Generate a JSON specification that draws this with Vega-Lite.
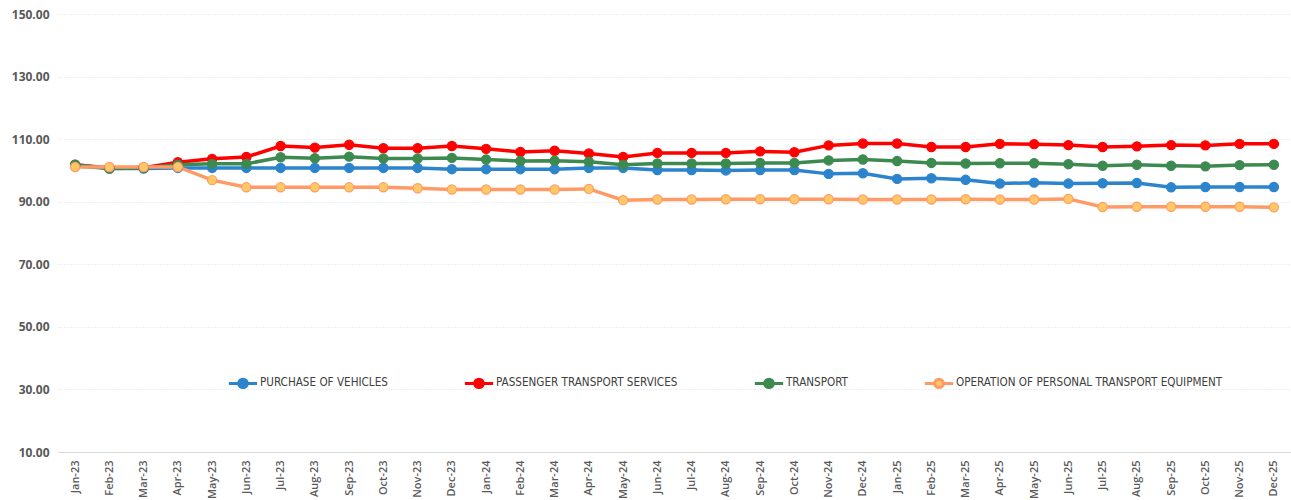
{
  "$schema": "https://vega.github.io/schema/vega-lite/v6.json",
  "width": 1233,
  "height": 438,
  "autosize": {"type": "none"},
  "padding": {"left": 58, "top": 14, "right": 0, "bottom": 48},
  "background": "white",
  "config": {"view": {"stroke": null}},
  "datasets": {
    "cpi": [
      {"m":"Jan-23","s":"PURCHASE OF VEHICLES","v":101.5},{"m":"Feb-23","s":"PURCHASE OF VEHICLES","v":100.6},{"m":"Mar-23","s":"PURCHASE OF VEHICLES","v":100.6},{"m":"Apr-23","s":"PURCHASE OF VEHICLES","v":100.8},{"m":"May-23","s":"PURCHASE OF VEHICLES","v":100.8},{"m":"Jun-23","s":"PURCHASE OF VEHICLES","v":100.8},{"m":"Jul-23","s":"PURCHASE OF VEHICLES","v":100.8},{"m":"Aug-23","s":"PURCHASE OF VEHICLES","v":100.8},{"m":"Sep-23","s":"PURCHASE OF VEHICLES","v":100.8},{"m":"Oct-23","s":"PURCHASE OF VEHICLES","v":100.8},{"m":"Nov-23","s":"PURCHASE OF VEHICLES","v":100.8},{"m":"Dec-23","s":"PURCHASE OF VEHICLES","v":100.4},
      {"m":"Jan-24","s":"PURCHASE OF VEHICLES","v":100.4},{"m":"Feb-24","s":"PURCHASE OF VEHICLES","v":100.4},{"m":"Mar-24","s":"PURCHASE OF VEHICLES","v":100.4},{"m":"Apr-24","s":"PURCHASE OF VEHICLES","v":100.8},{"m":"May-24","s":"PURCHASE OF VEHICLES","v":100.8},{"m":"Jun-24","s":"PURCHASE OF VEHICLES","v":100.1},{"m":"Jul-24","s":"PURCHASE OF VEHICLES","v":100.1},{"m":"Aug-24","s":"PURCHASE OF VEHICLES","v":100.0},{"m":"Sep-24","s":"PURCHASE OF VEHICLES","v":100.1},{"m":"Oct-24","s":"PURCHASE OF VEHICLES","v":100.1},{"m":"Nov-24","s":"PURCHASE OF VEHICLES","v":98.9},{"m":"Dec-24","s":"PURCHASE OF VEHICLES","v":99.1},
      {"m":"Jan-25","s":"PURCHASE OF VEHICLES","v":97.3},{"m":"Feb-25","s":"PURCHASE OF VEHICLES","v":97.5},{"m":"Mar-25","s":"PURCHASE OF VEHICLES","v":97.0},{"m":"Apr-25","s":"PURCHASE OF VEHICLES","v":95.8},{"m":"May-25","s":"PURCHASE OF VEHICLES","v":96.1},{"m":"Jun-25","s":"PURCHASE OF VEHICLES","v":95.8},{"m":"Jul-25","s":"PURCHASE OF VEHICLES","v":95.9},{"m":"Aug-25","s":"PURCHASE OF VEHICLES","v":96.0},{"m":"Sep-25","s":"PURCHASE OF VEHICLES","v":94.6},{"m":"Oct-25","s":"PURCHASE OF VEHICLES","v":94.7},{"m":"Nov-25","s":"PURCHASE OF VEHICLES","v":94.7},{"m":"Dec-25","s":"PURCHASE OF VEHICLES","v":94.7},

      {"m":"Jan-23","s":"PASSENGER TRANSPORT SERVICES","v":101.8},{"m":"Feb-23","s":"PASSENGER TRANSPORT SERVICES","v":100.8},{"m":"Mar-23","s":"PASSENGER TRANSPORT SERVICES","v":100.9},{"m":"Apr-23","s":"PASSENGER TRANSPORT SERVICES","v":102.6},{"m":"May-23","s":"PASSENGER TRANSPORT SERVICES","v":103.7},{"m":"Jun-23","s":"PASSENGER TRANSPORT SERVICES","v":104.3},{"m":"Jul-23","s":"PASSENGER TRANSPORT SERVICES","v":107.8},{"m":"Aug-23","s":"PASSENGER TRANSPORT SERVICES","v":107.3},{"m":"Sep-23","s":"PASSENGER TRANSPORT SERVICES","v":108.2},{"m":"Oct-23","s":"PASSENGER TRANSPORT SERVICES","v":107.1},{"m":"Nov-23","s":"PASSENGER TRANSPORT SERVICES","v":107.1},{"m":"Dec-23","s":"PASSENGER TRANSPORT SERVICES","v":107.8},
      {"m":"Jan-24","s":"PASSENGER TRANSPORT SERVICES","v":106.9},{"m":"Feb-24","s":"PASSENGER TRANSPORT SERVICES","v":105.9},{"m":"Mar-24","s":"PASSENGER TRANSPORT SERVICES","v":106.3},{"m":"Apr-24","s":"PASSENGER TRANSPORT SERVICES","v":105.4},{"m":"May-24","s":"PASSENGER TRANSPORT SERVICES","v":104.3},{"m":"Jun-24","s":"PASSENGER TRANSPORT SERVICES","v":105.6},{"m":"Jul-24","s":"PASSENGER TRANSPORT SERVICES","v":105.6},{"m":"Aug-24","s":"PASSENGER TRANSPORT SERVICES","v":105.6},{"m":"Sep-24","s":"PASSENGER TRANSPORT SERVICES","v":106.1},{"m":"Oct-24","s":"PASSENGER TRANSPORT SERVICES","v":105.8},{"m":"Nov-24","s":"PASSENGER TRANSPORT SERVICES","v":108.0},{"m":"Dec-24","s":"PASSENGER TRANSPORT SERVICES","v":108.6},
      {"m":"Jan-25","s":"PASSENGER TRANSPORT SERVICES","v":108.6},{"m":"Feb-25","s":"PASSENGER TRANSPORT SERVICES","v":107.5},{"m":"Mar-25","s":"PASSENGER TRANSPORT SERVICES","v":107.5},{"m":"Apr-25","s":"PASSENGER TRANSPORT SERVICES","v":108.5},{"m":"May-25","s":"PASSENGER TRANSPORT SERVICES","v":108.4},{"m":"Jun-25","s":"PASSENGER TRANSPORT SERVICES","v":108.1},{"m":"Jul-25","s":"PASSENGER TRANSPORT SERVICES","v":107.5},{"m":"Aug-25","s":"PASSENGER TRANSPORT SERVICES","v":107.7},{"m":"Sep-25","s":"PASSENGER TRANSPORT SERVICES","v":108.1},{"m":"Oct-25","s":"PASSENGER TRANSPORT SERVICES","v":108.0},{"m":"Nov-25","s":"PASSENGER TRANSPORT SERVICES","v":108.5},{"m":"Dec-25","s":"PASSENGER TRANSPORT SERVICES","v":108.5},

      {"m":"Jan-23","s":"TRANSPORT","v":101.8},{"m":"Feb-23","s":"TRANSPORT","v":100.6},{"m":"Mar-23","s":"TRANSPORT","v":100.8},{"m":"Apr-23","s":"TRANSPORT","v":101.8},{"m":"May-23","s":"TRANSPORT","v":102.1},{"m":"Jun-23","s":"TRANSPORT","v":102.1},{"m":"Jul-23","s":"TRANSPORT","v":104.2},{"m":"Aug-23","s":"TRANSPORT","v":103.9},{"m":"Sep-23","s":"TRANSPORT","v":104.4},{"m":"Oct-23","s":"TRANSPORT","v":103.8},{"m":"Nov-23","s":"TRANSPORT","v":103.8},{"m":"Dec-23","s":"TRANSPORT","v":104.0},
      {"m":"Jan-24","s":"TRANSPORT","v":103.5},{"m":"Feb-24","s":"TRANSPORT","v":103.0},{"m":"Mar-24","s":"TRANSPORT","v":103.1},{"m":"Apr-24","s":"TRANSPORT","v":102.8},{"m":"May-24","s":"TRANSPORT","v":101.8},{"m":"Jun-24","s":"TRANSPORT","v":102.2},{"m":"Jul-24","s":"TRANSPORT","v":102.2},{"m":"Aug-24","s":"TRANSPORT","v":102.2},{"m":"Sep-24","s":"TRANSPORT","v":102.4},{"m":"Oct-24","s":"TRANSPORT","v":102.4},{"m":"Nov-24","s":"TRANSPORT","v":103.2},{"m":"Dec-24","s":"TRANSPORT","v":103.5},
      {"m":"Jan-25","s":"TRANSPORT","v":103.0},{"m":"Feb-25","s":"TRANSPORT","v":102.4},{"m":"Mar-25","s":"TRANSPORT","v":102.2},{"m":"Apr-25","s":"TRANSPORT","v":102.3},{"m":"May-25","s":"TRANSPORT","v":102.3},{"m":"Jun-25","s":"TRANSPORT","v":102.0},{"m":"Jul-25","s":"TRANSPORT","v":101.5},{"m":"Aug-25","s":"TRANSPORT","v":101.8},{"m":"Sep-25","s":"TRANSPORT","v":101.5},{"m":"Oct-25","s":"TRANSPORT","v":101.3},{"m":"Nov-25","s":"TRANSPORT","v":101.7},{"m":"Dec-25","s":"TRANSPORT","v":101.8},

      {"m":"Jan-23","s":"OPERATION OF PERSONAL TRANSPORT EQUIPMENT","v":101.1},{"m":"Feb-23","s":"OPERATION OF PERSONAL TRANSPORT EQUIPMENT","v":101.1},{"m":"Mar-23","s":"OPERATION OF PERSONAL TRANSPORT EQUIPMENT","v":101.1},{"m":"Apr-23","s":"OPERATION OF PERSONAL TRANSPORT EQUIPMENT","v":101.1},{"m":"May-23","s":"OPERATION OF PERSONAL TRANSPORT EQUIPMENT","v":96.9},{"m":"Jun-23","s":"OPERATION OF PERSONAL TRANSPORT EQUIPMENT","v":94.6},{"m":"Jul-23","s":"OPERATION OF PERSONAL TRANSPORT EQUIPMENT","v":94.6},{"m":"Aug-23","s":"OPERATION OF PERSONAL TRANSPORT EQUIPMENT","v":94.6},{"m":"Sep-23","s":"OPERATION OF PERSONAL TRANSPORT EQUIPMENT","v":94.6},{"m":"Oct-23","s":"OPERATION OF PERSONAL TRANSPORT EQUIPMENT","v":94.6},{"m":"Nov-23","s":"OPERATION OF PERSONAL TRANSPORT EQUIPMENT","v":94.3},{"m":"Dec-23","s":"OPERATION OF PERSONAL TRANSPORT EQUIPMENT","v":93.9},
      {"m":"Jan-24","s":"OPERATION OF PERSONAL TRANSPORT EQUIPMENT","v":93.9},{"m":"Feb-24","s":"OPERATION OF PERSONAL TRANSPORT EQUIPMENT","v":93.9},{"m":"Mar-24","s":"OPERATION OF PERSONAL TRANSPORT EQUIPMENT","v":93.9},{"m":"Apr-24","s":"OPERATION OF PERSONAL TRANSPORT EQUIPMENT","v":94.1},{"m":"May-24","s":"OPERATION OF PERSONAL TRANSPORT EQUIPMENT","v":90.5},{"m":"Jun-24","s":"OPERATION OF PERSONAL TRANSPORT EQUIPMENT","v":90.7},{"m":"Jul-24","s":"OPERATION OF PERSONAL TRANSPORT EQUIPMENT","v":90.7},{"m":"Aug-24","s":"OPERATION OF PERSONAL TRANSPORT EQUIPMENT","v":90.8},{"m":"Sep-24","s":"OPERATION OF PERSONAL TRANSPORT EQUIPMENT","v":90.8},{"m":"Oct-24","s":"OPERATION OF PERSONAL TRANSPORT EQUIPMENT","v":90.8},{"m":"Nov-24","s":"OPERATION OF PERSONAL TRANSPORT EQUIPMENT","v":90.8},{"m":"Dec-24","s":"OPERATION OF PERSONAL TRANSPORT EQUIPMENT","v":90.7},
      {"m":"Jan-25","s":"OPERATION OF PERSONAL TRANSPORT EQUIPMENT","v":90.7},{"m":"Feb-25","s":"OPERATION OF PERSONAL TRANSPORT EQUIPMENT","v":90.7},{"m":"Mar-25","s":"OPERATION OF PERSONAL TRANSPORT EQUIPMENT","v":90.8},{"m":"Apr-25","s":"OPERATION OF PERSONAL TRANSPORT EQUIPMENT","v":90.7},{"m":"May-25","s":"OPERATION OF PERSONAL TRANSPORT EQUIPMENT","v":90.7},{"m":"Jun-25","s":"OPERATION OF PERSONAL TRANSPORT EQUIPMENT","v":90.9},{"m":"Jul-25","s":"OPERATION OF PERSONAL TRANSPORT EQUIPMENT","v":88.3},{"m":"Aug-25","s":"OPERATION OF PERSONAL TRANSPORT EQUIPMENT","v":88.4},{"m":"Sep-25","s":"OPERATION OF PERSONAL TRANSPORT EQUIPMENT","v":88.4},{"m":"Oct-25","s":"OPERATION OF PERSONAL TRANSPORT EQUIPMENT","v":88.4},{"m":"Nov-25","s":"OPERATION OF PERSONAL TRANSPORT EQUIPMENT","v":88.4},{"m":"Dec-25","s":"OPERATION OF PERSONAL TRANSPORT EQUIPMENT","v":88.2}
    ]
  },
  "data": {"name": "cpi"},
  "encoding": {
    "x": {
      "field": "m", "type": "ordinal", "sort": null,
      "scale": {"type": "point", "padding": 0.5},
      "axis": {
        "title": null, "labelAngle": 270, "labelAlign": "right", "labelBaseline": "middle",
        "labelFont": "Open Sans", "labelFontSize": 11, "labelFontWeight": 600, "labelColor": "#595959",
        "labelPadding": 8, "ticks": false, "domain": true, "domainColor": "#d9d9d9", "domainWidth": 1,
        "grid": false
      }
    },
    "y": {
      "field": "v", "type": "quantitative",
      "scale": {"domain": [10, 150], "nice": false, "zero": false},
      "axis": {
        "title": null, "values": [10, 30, 50, 70, 90, 110, 130, 150], "format": ".2f",
        "labelFont": "Open Sans", "labelFontSize": 12, "labelFontWeight": "bold", "labelColor": "#595959",
        "labelPadding": 9, "ticks": false, "domain": false,
        "grid": true, "gridColor": "#d5e3e3", "gridDash": [1, 2], "gridWidth": 1
      }
    },
    "color": {
      "field": "s", "type": "nominal",
      "scale": {
        "domain": ["PURCHASE OF VEHICLES", "PASSENGER TRANSPORT SERVICES", "TRANSPORT", "OPERATION OF PERSONAL TRANSPORT EQUIPMENT"],
        "range": ["#2b84cc", "#ff0000", "#3d8a50", "#ff9a66"]
      },
      "legend": {
        "title": null, "orient": "none", "legendX": 169, "legendY": 353, "direction": "horizontal",
        "columns": 4, "columnPadding": 70, "labelLimit": 0,
        "labelFont": "DejaVu Sans Condensed, Liberation Sans, sans-serif", "labelFontSize": 11.6, "labelColor": "#404040",
        "symbolType": "M-1,0L-0.3,0M0.3,0L1,0M-0.3,0A0.3,0.3 0 1,1 0.3,0A0.3,0.3 0 1,1 -0.3,0Z",
        "symbolSize": 800, "symbolStrokeWidth": 3, "labelOffset": 1,
        "encode": {"symbols": {"update": {"fill": {"scale": "fill", "field": "value"}}}}
      }
    }
  },
  "layer": [
    {"mark": {"type": "line", "strokeWidth": 3.5}},
    {
      "mark": {"type": "point", "shape": "circle", "size": 85, "filled": false, "strokeWidth": 1.2, "opacity": 1},
      "encoding": {
        "fill": {
          "field": "s", "type": "nominal",
          "scale": {
            "domain": ["PURCHASE OF VEHICLES", "PASSENGER TRANSPORT SERVICES", "TRANSPORT", "OPERATION OF PERSONAL TRANSPORT EQUIPMENT"],
            "range": ["#2b84cc", "#ff0000", "#3d8a50", "#ffc866"]
          },
          "legend": null
        }
      }
    }
  ]
}
